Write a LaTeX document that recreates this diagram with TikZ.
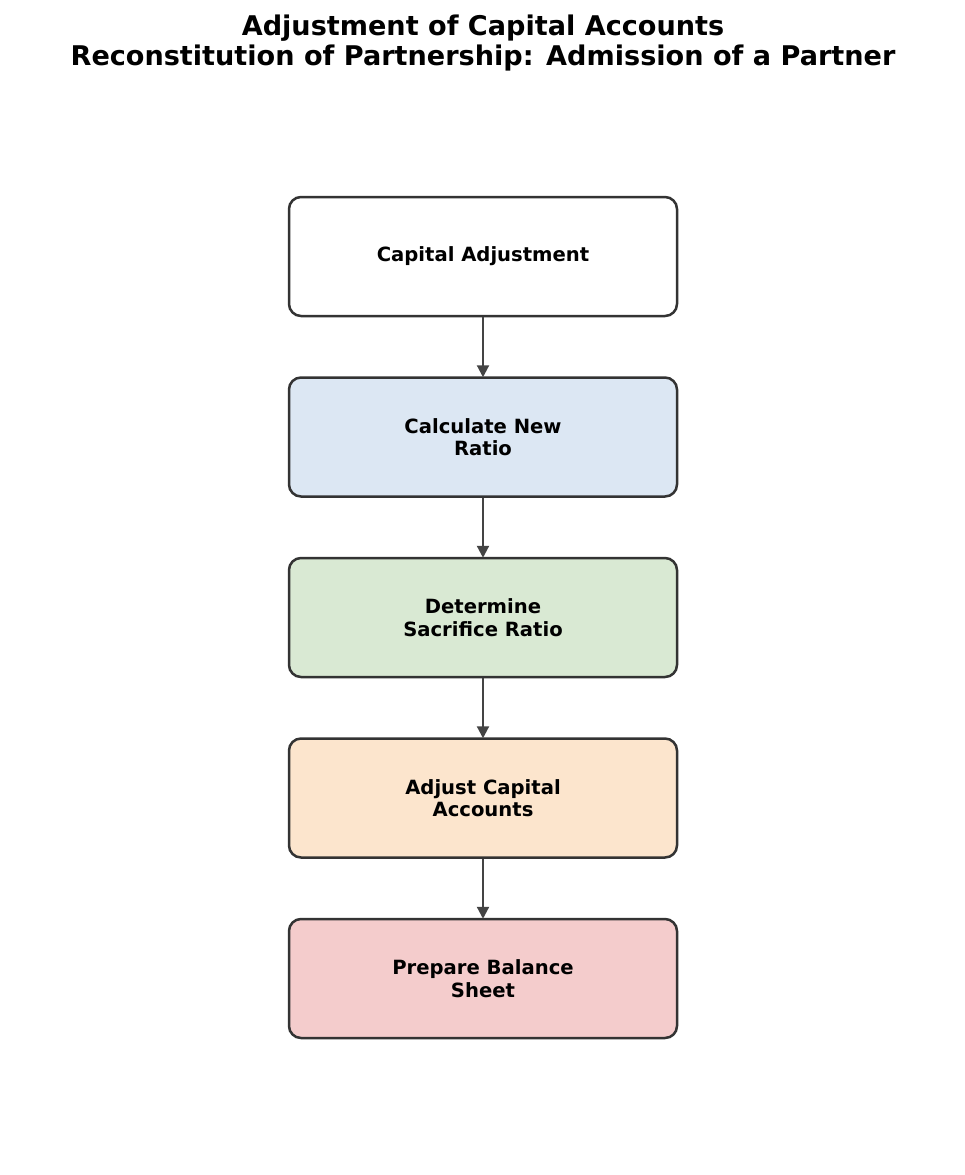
\documentclass[tikz,border=0pt]{standalone}
\usepackage{fontspec}
\setmainfont{DejaVu Sans}
\usetikzlibrary{arrows.meta}
\definecolor{boxline}{HTML}{333333}
\definecolor{arrowc}{HTML}{444444}
\definecolor{cblue}{HTML}{DCE7F3}
\definecolor{cgreen}{HTML}{D9E9D3}
\definecolor{corange}{HTML}{FCE5CD}
\definecolor{cred}{HTML}{F4CCCC}
\begin{document}
\begin{tikzpicture}[x=1pt,y=-1pt,
  stepbox/.style={draw=boxline, line width=2.5pt, rounded corners=12pt,
    minimum width=388pt, minimum height=119pt, align=center,
    font=\fontsize{19.6}{22.5}\selectfont\bfseries, inner sep=0pt},
  flow/.style={draw=arrowc, line width=2.2pt,
    -{Triangle[width=12pt,length=12pt]}, shorten >=-1pt},
  titlestyle/.style={align=center, font=\fontsize{27.1}{30.5}\selectfont\bfseries}]
\useasboundingbox (0,0) rectangle (965,1175);
\node[titlestyle] (title) at (483,43) {Adjustment of Capital Accounts\\Reconstitution of Partnership: Admission of a Partner};
\node[stepbox, fill=white] (b1) at (483,256.5) {Capital Adjustment};
\node[stepbox, fill=cblue] (b2) at (483,437) {Calculate New\\Ratio};
\node[stepbox, fill=cgreen] (b3) at (483,617.5) {Determine\\Sacrifice Ratio};
\node[stepbox, fill=corange] (b4) at (483,798) {Adjust Capital\\Accounts};
\node[stepbox, fill=cred] (b5) at (483,978.5) {Prepare Balance\\Sheet};
\draw[flow] (b1) -- (b2);
\draw[flow] (b2) -- (b3);
\draw[flow] (b3) -- (b4);
\draw[flow] (b4) -- (b5);
\end{tikzpicture}
\end{document}
